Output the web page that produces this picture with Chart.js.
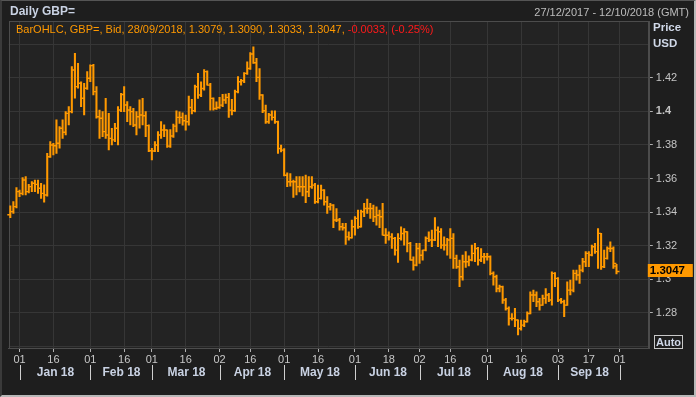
<!DOCTYPE html>
<html>
<head>
<meta charset="utf-8">
<script src="https://cdn.jsdelivr.net/npm/chart.js@4.4.0/dist/chart.umd.min.js"></script>
<style>
  html, body { margin: 0; padding: 0; background: #1e1e1e; }
  #wrap { position: relative; width: 696px; height: 397px; overflow: hidden; font-family: "Liberation Sans", Arial, sans-serif; }
  #c { position: absolute; left: 0; top: 0; }
  .t { position: absolute; white-space: nowrap; line-height: 13px; }
  #frame { position: absolute; left: 0; top: 0; width: 696px; height: 397px; box-sizing: border-box;
           border-top: 1px solid #555; border-left: 2px solid #3a3a3a; border-right: 2px solid #b8b8b8; border-bottom: 2px solid #b8b8b8; pointer-events: none; }
</style>
</head>
<body>
<div id="wrap">
  <canvas id="c" width="696" height="397"></canvas>
  <div class="t" style="left:10px;top:5px;font-size:12px;font-weight:bold;color:#c9d2e3;">Daily GBP=</div>
  <div class="t" style="right:7px;top:6px;font-size:11px;color:#bdbdbd;">27/12/2017 - 12/10/2018 (GMT)</div>
  <div class="t" style="left:16px;top:23px;font-size:11px;color:#ff9900;">BarOHLC, GBP=, Bid, 28/09/2018, 1.3079, 1.3090, 1.3033, 1.3047, <span style="color:#ff1a1a;">-0.0033, (-0.25%)</span></div>
  <div class="t" style="left:653px;top:21px;font-size:11.5px;font-weight:bold;color:#d0d8e8;">Price</div>
  <div class="t" style="left:653px;top:37px;font-size:11.5px;font-weight:bold;color:#d0d8e8;">USD</div>
  <div class="t" style="left:654px;top:335px;width:27px;height:12px;line-height:12px;border:1px solid #c8c8c8;font-size:11px;font-weight:bold;color:#d0d8e8;text-align:center;">Auto</div>
  <div id="frame"></div>
</div>
<script>
// Categories: every weekday from 27/12/2017 to 12/10/2018
const labels = [];
let day = new Date(Date.UTC(2017, 11, 27));
while (day.getTime() <= Date.UTC(2018, 9, 12)) {
  const wd = day.getUTCDay();
  if (wd > 0 && wd < 6) labels.push(day.toISOString().slice(0, 10));
  day.setUTCDate(day.getUTCDate() + 1);
}

// Daily OHLC (bid), 27/12/2017 .. 28/09/2018
const opens = [
  1.3385,1.3403,1.3433,1.3522,1.3512,1.3591,1.3522,1.3552,1.3572,1.3565,
  1.3542,1.3512,1.3502,1.3730,1.3800,1.3795,1.3810,1.3899,1.3875,1.3988,
  1.3998,1.4246,1.4147,1.4167,1.4078,1.4137,1.4197,1.4272,1.4117,1.3968,
  1.3959,1.3879,1.3859,1.3839,1.3830,1.3899,1.4008,1.4100,1.4038,1.4008,
  1.3998,1.3919,1.3968,1.3978,1.3974,1.3915,1.3765,1.3764,1.3800,1.3859,
  1.3889,1.3889,1.3793,1.3853,1.3912,1.3964,1.3964,1.3944,1.3938,1.4023,
  1.4003,1.4146,1.4097,1.4136,1.4236,1.4156,1.4077,1.4017,1.4023,1.4037,
  1.4067,1.4083,1.4007,1.4003,1.4116,1.4176,1.4182,1.4226,1.4255,1.4341,
  1.4289,1.4202,1.4097,1.4003,1.3938,1.3978,1.3964,1.3938,1.3779,1.3769,
  1.3620,1.3581,1.3581,1.3581,1.3551,1.3551,1.3551,1.3521,1.3551,1.3561,
  1.3462,1.3482,1.3531,1.3462,1.3432,1.3442,1.3353,1.3353,1.3313,1.3307,
  1.3253,1.3248,1.3313,1.3363,1.3313,1.3402,1.3422,1.3422,1.3422,1.3373,
  1.3382,1.3373,1.3263,1.3263,1.3253,1.3244,1.3174,1.3244,1.3273,1.3283,
  1.3214,1.3115,1.3085,1.3184,1.3144,1.3174,1.3244,1.3234,1.3234,1.3293,
  1.3283,1.3204,1.3204,1.3234,1.3244,1.3125,1.3075,1.3016,1.3105,1.3105,
  1.3115,1.3155,1.3184,1.3115,1.3135,1.3135,1.3135,1.3036,1.3016,1.2946,
  1.2956,1.2877,1.2827,1.2768,1.2768,1.2758,1.2708,1.2728,1.2748,1.2797,
  1.2907,1.2907,1.2867,1.2847,1.2887,1.2907,1.2877,1.3036,1.3006,1.2877,
  1.2867,1.2847,1.2936,1.2936,1.3036,1.3026,1.3055,1.3105,1.3155,1.3145,
  1.3194,1.3165,1.3274,1.3075,1.3125,1.3184,1.3184,1.3079
];
const highs = [
  1.3437,1.3463,1.3546,1.3532,1.3605,1.3611,1.3566,1.3582,1.3591,1.3591,
  1.3572,1.3562,1.3750,1.3820,1.3810,1.3949,1.3909,1.3949,1.3998,1.4028,
  1.4266,1.4345,1.4286,1.4175,1.4167,1.4236,1.4276,1.4280,1.4147,1.4008,
  1.3998,1.4078,1.3988,1.3899,1.3929,1.4028,1.4107,1.4147,1.4058,1.4028,
  1.4018,1.3998,1.4068,1.4078,1.3998,1.3919,1.3780,1.3820,1.3879,1.3939,
  1.3919,1.3890,1.3892,1.3924,1.4003,1.3997,1.3991,1.3978,1.4091,1.4071,
  1.4156,1.4226,1.4176,1.4249,1.4241,1.4166,1.4080,1.4057,1.4083,1.4101,
  1.4103,1.4107,1.4071,1.4126,1.4206,1.4190,1.4230,1.4295,1.4349,1.4384,
  1.4315,1.4255,1.4100,1.4037,1.3988,1.4003,1.4003,1.3942,1.3799,1.3779,
  1.3634,1.3630,1.3591,1.3611,1.3611,1.3611,1.3620,1.3611,1.3611,1.3571,
  1.3561,1.3561,1.3535,1.3492,1.3452,1.3445,1.3422,1.3363,1.3333,1.3333,
  1.3283,1.3353,1.3373,1.3412,1.3412,1.3452,1.3478,1.3452,1.3442,1.3432,
  1.3412,1.3452,1.3303,1.3283,1.3273,1.3250,1.3273,1.3313,1.3303,1.3285,
  1.3220,1.3134,1.3214,1.3214,1.3174,1.3253,1.3283,1.3293,1.3367,1.3313,
  1.3303,1.3253,1.3244,1.3303,1.3273,1.3144,1.3115,1.3144,1.3165,1.3140,
  1.3204,1.3214,1.3190,1.3184,1.3155,1.3155,1.3140,1.3045,1.3026,1.2966,
  1.2960,1.2887,1.2837,1.2797,1.2827,1.2760,1.2758,1.2758,1.2807,1.2926,
  1.2936,1.2926,1.2887,1.2907,1.2946,1.2917,1.3045,1.3040,1.3010,1.2887,
  1.2877,1.2986,1.2996,1.3055,1.3055,1.3085,1.3125,1.3165,1.3165,1.3204,
  1.3214,1.3303,1.3274,1.3174,1.3194,1.3224,1.3194,1.3090
];
const lows = [
  1.3367,1.3393,1.3425,1.3492,1.3502,1.3502,1.3515,1.3522,1.3522,1.3512,
  1.3482,1.3459,1.3495,1.3725,1.3740,1.3750,1.3780,1.3839,1.3859,1.3919,
  1.3990,1.4078,1.4137,1.4028,1.3978,1.4130,1.4177,1.4097,1.3959,1.3839,
  1.3849,1.3839,1.3770,1.3800,1.3820,1.3800,1.3998,1.3998,1.3939,1.3919,
  1.3909,1.3859,1.3899,1.3919,1.3849,1.3760,1.3711,1.3760,1.3760,1.3839,
  1.3849,1.3785,1.3785,1.3845,1.3878,1.3928,1.3918,1.3888,1.3918,1.3984,
  1.3997,1.4077,1.4087,1.4126,1.4156,1.4007,1.4007,1.4011,1.4017,1.4027,
  1.4047,1.3964,1.3978,1.4000,1.4110,1.4156,1.4170,1.4220,1.4250,1.4285,
  1.4176,1.4071,1.3992,1.3928,1.3928,1.3948,1.3928,1.3749,1.3759,1.3615,
  1.3551,1.3555,1.3488,1.3502,1.3521,1.3496,1.3456,1.3492,1.3541,1.3452,
  1.3455,1.3478,1.3442,1.3392,1.3412,1.3307,1.3343,1.3293,1.3293,1.3208,
  1.3234,1.3245,1.3263,1.3303,1.3310,1.3373,1.3392,1.3363,1.3343,1.3323,
  1.3307,1.3263,1.3214,1.3234,1.3184,1.3144,1.3101,1.3234,1.3204,1.3164,
  1.3115,1.3055,1.3080,1.3095,1.3115,1.3170,1.3224,1.3194,1.3230,1.3194,
  1.3184,1.3174,1.3144,1.3125,1.3065,1.3065,1.2956,1.2996,1.3071,1.3080,
  1.3110,1.3105,1.3085,1.3105,1.3095,1.3115,1.3026,1.2966,1.2926,1.2926,
  1.2857,1.2817,1.2728,1.2758,1.2718,1.2669,1.2698,1.2718,1.2745,1.2795,
  1.2867,1.2837,1.2817,1.2845,1.2857,1.2867,1.2847,1.2956,1.2867,1.2857,
  1.2778,1.2845,1.2907,1.2926,1.2996,1.2976,1.3045,1.3075,1.3075,1.3140,
  1.3155,1.3065,1.3060,1.3070,1.3120,1.3165,1.3065,1.3033
];
const closes = [
  1.3403,1.3433,1.3522,1.3512,1.3591,1.3522,1.3552,1.3572,1.3565,1.3542,
  1.3512,1.3502,1.3730,1.3800,1.3795,1.3810,1.3899,1.3875,1.3988,1.3998,
  1.4246,1.4147,1.4167,1.4078,1.4137,1.4197,1.4272,1.4117,1.3968,1.3959,
  1.3879,1.3859,1.3839,1.3830,1.3899,1.4008,1.4100,1.4038,1.4008,1.3998,
  1.3919,1.3968,1.3978,1.3974,1.3915,1.3765,1.3764,1.3800,1.3859,1.3889,
  1.3889,1.3793,1.3853,1.3912,1.3964,1.3964,1.3944,1.3938,1.4023,1.4003,
  1.4146,1.4097,1.4136,1.4236,1.4156,1.4077,1.4017,1.4023,1.4037,1.4067,
  1.4083,1.4007,1.4003,1.4116,1.4176,1.4182,1.4226,1.4255,1.4341,1.4289,
  1.4202,1.4097,1.4003,1.3938,1.3978,1.3964,1.3938,1.3779,1.3769,1.3620,
  1.3581,1.3581,1.3581,1.3551,1.3551,1.3551,1.3521,1.3551,1.3561,1.3462,
  1.3482,1.3531,1.3462,1.3432,1.3442,1.3353,1.3353,1.3313,1.3307,1.3253,
  1.3248,1.3313,1.3363,1.3313,1.3402,1.3422,1.3422,1.3422,1.3373,1.3382,
  1.3373,1.3263,1.3263,1.3253,1.3244,1.3174,1.3244,1.3273,1.3283,1.3214,
  1.3115,1.3085,1.3184,1.3144,1.3174,1.3244,1.3234,1.3234,1.3293,1.3283,
  1.3204,1.3204,1.3234,1.3244,1.3125,1.3075,1.3016,1.3105,1.3105,1.3115,
  1.3155,1.3184,1.3115,1.3135,1.3135,1.3135,1.3036,1.3016,1.2946,1.2956,
  1.2877,1.2827,1.2768,1.2768,1.2758,1.2708,1.2728,1.2748,1.2797,1.2907,
  1.2907,1.2867,1.2847,1.2887,1.2907,1.2877,1.3036,1.3006,1.2877,1.2867,
  1.2847,1.2936,1.2936,1.3036,1.3026,1.3055,1.3105,1.3155,1.3145,1.3194,
  1.3165,1.3274,1.3075,1.3125,1.3184,1.3184,1.3095,1.3047
];

// Axis ticks
const tickDates = ['2018-01-01','2018-01-16','2018-02-01','2018-02-16','2018-03-01','2018-03-16',
  '2018-04-02','2018-04-16','2018-05-01','2018-05-16','2018-06-01','2018-06-18','2018-07-02',
  '2018-07-16','2018-08-01','2018-08-16','2018-09-03','2018-09-17','2018-10-01'];
const monthStarts = ['2018-01-01','2018-02-01','2018-03-01','2018-04-02','2018-05-01',
  '2018-06-01','2018-07-02','2018-08-01','2018-09-03','2018-10-01'];
const monthNames = ['Jan 18','Feb 18','Mar 18','Apr 18','May 18','Jun 18','Jul 18','Aug 18','Sep 18'];
const yTicks = [1.26, 1.28, 1.30, 1.32, 1.34, 1.36, 1.38, 1.40, 1.42, 1.44];
const yLabelled = [1.28, 1.30, 1.32, 1.34, 1.36, 1.38, 1.40, 1.42];

const BAR_COLOR = '#ff9900';
const FONT = '"Liberation Sans", Arial, sans-serif';

// Background + plot frame
const backdrop = {
  id: 'backdrop',
  beforeDraw(chart) {
    const { ctx, chartArea: a } = chart;
    ctx.save();
    ctx.fillStyle = '#1e1e1e';
    ctx.fillRect(0, 0, chart.width, chart.height);
    ctx.fillStyle = '#232323';
    ctx.fillRect(a.left, a.top, a.right - a.left, a.bottom - a.top);
    ctx.restore();
  },
  beforeDatasetsDraw(chart) {
    const { ctx, chartArea: a } = chart;
    ctx.save();
    ctx.strokeStyle = '#4c4c4c';
    ctx.lineWidth = 1;
    ctx.strokeRect(Math.round(a.left) + 0.5, Math.round(a.top) + 0.5,
      Math.round(a.right - a.left), Math.round(a.bottom - a.top));
    ctx.restore();
  }
};

// Open (left) and close (right) ticks
const ohlcTicks = {
  id: 'ohlcTicks',
  afterDatasetsDraw(chart) {
    const { ctx, scales: { x, y } } = chart;
    ctx.save();
    ctx.strokeStyle = BAR_COLOR;
    ctx.lineWidth = 1.4;
    ctx.beginPath();
    for (let i = 0; i < closes.length; i++) {
      const px = x.getPixelForValue(i);
      const yo = y.getPixelForValue(opens[i]);
      const yc = y.getPixelForValue(closes[i]);
      ctx.moveTo(px - 3, yo); ctx.lineTo(px, yo);
      ctx.moveTo(px, yc); ctx.lineTo(px + 3, yc);
    }
    ctx.stroke();
    ctx.restore();
  }
};

// Month separators and names, last price tag
const extras = {
  id: 'extras',
  afterDraw(chart) {
    const { ctx, scales: { x, y } } = chart;
    ctx.save();
    const xs = monthStarts.map(d => Math.round(x.getPixelForValue(labels.indexOf(d))) + 0.5);
    ctx.strokeStyle = '#cfcfcf';
    ctx.lineWidth = 1;
    ctx.beginPath();
    xs.forEach(px => { ctx.moveTo(px, 365); ctx.lineTo(px, 380); });
    ctx.stroke();
    ctx.fillStyle = '#c9d2e3';
    ctx.font = 'bold 12px ' + FONT;
    ctx.textAlign = 'center';
    ctx.textBaseline = 'middle';
    monthNames.forEach((m, i) => ctx.fillText(m, (xs[i] + xs[i + 1]) / 2, 373));

    const last = closes[closes.length - 1];
    const py = Math.round(y.getPixelForValue(last));
    ctx.fillStyle = BAR_COLOR;
    ctx.fillRect(x.right - 1, py - 7, 45, 13);
    ctx.fillStyle = '#000';
    ctx.font = 'bold 11.5px ' + FONT;
    ctx.textAlign = 'left';
    ctx.fillText(last.toFixed(4), x.right + 1, py);
    ctx.restore();
  }
};

new Chart(document.getElementById('c'), {
  type: 'bar',
  data: {
    labels: labels,
    datasets: [{
      data: labels.map((_, i) => i < highs.length ? [lows[i], highs[i]] : null),
      backgroundColor: BAR_COLOR,
      borderWidth: 0,
      barThickness: 1.4
    }]
  },
  options: {
    responsive: false,
    animation: false,
    events: [],
    layout: { padding: { left: 8.76, top: 21, right: 0, bottom: 0 } },
    plugins: { legend: { display: false }, tooltip: { enabled: false } },
    scales: {
      x: {
        offset: true,
        grid: { color: '#363636', offset: false, tickLength: 4, tickColor: '#b0b0b0' },
        border: { color: '#4c4c4c' },
        afterBuildTicks: s => { s.ticks = tickDates.map(d => ({ value: labels.indexOf(d) })); },
        afterFit: s => { s.height = 49; },
        ticks: {
          autoSkip: false, maxRotation: 0, padding: 1,
          color: '#c8c8c8', font: { family: FONT, size: 11 },
          callback: v => labels[v].slice(8)
        }
      },
      y: {
        position: 'right',
        min: 1.25917,
        max: 1.45374,
        grid: {
          color: '#363636', tickLength: 4,
          tickColor: c => yLabelled.includes(c.tick.value) ? '#b0b0b0' : 'rgba(0,0,0,0)'
        },
        border: { color: '#4c4c4c' },
        afterBuildTicks: s => { s.ticks = yTicks.map(v => ({ value: v })); },
        afterFit: s => { s.width = 47.2; },
        ticks: {
          padding: 3,
          color: '#c4c4c4',
          font: c => ({ family: FONT, size: 11, weight: c.tick && c.tick.value === 1.40 ? 'bold' : 'normal' }),
          callback: v => yLabelled.includes(v) ? String(Number(v.toFixed(2))) : ''
        }
      }
    }
  },
  plugins: [backdrop, ohlcTicks, extras]
});
</script>
</body>
</html>
